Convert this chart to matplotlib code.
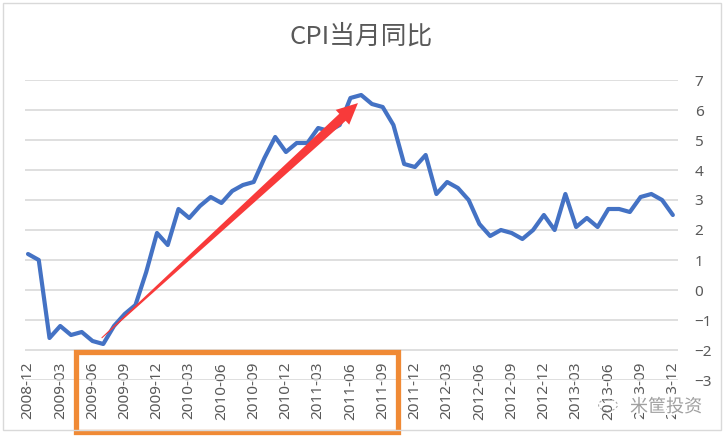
import numpy as np
import matplotlib
matplotlib.use("Agg")
import matplotlib.pyplot as plt
import matplotlib.patheffects as pe
from matplotlib.patches import Rectangle, Polygon, Circle

# China CPI, year-on-year (%), monthly 2008-12 .. 2013-12
months = [f"{y}-{m:02d}" for y, m in
          [(2008, 12)] + [(y, m) for y in range(2009, 2014) for m in range(1, 13)]]
cpi = [1.2,
       1.0, -1.6, -1.2, -1.5, -1.4, -1.7, -1.8, -1.2, -0.8, -0.5, 0.6, 1.9,
       1.5, 2.7, 2.4, 2.8, 3.1, 2.9, 3.3, 3.5, 3.6, 4.4, 5.1, 4.6,
       4.9, 4.9, 5.4, 5.3, 5.5, 6.4, 6.5, 6.2, 6.1, 5.5, 4.2, 4.1,
       4.5, 3.2, 3.6, 3.4, 3.0, 2.2, 1.8, 2.0, 1.9, 1.7, 2.0, 2.5,
       2.0, 3.2, 2.1, 2.4, 2.1, 2.7, 2.7, 2.6, 3.1, 3.2, 3.0, 2.5]
y_ticks = list(range(-3, 8))

# annotation: trend arrow (month index, value) and highlighted label range
arrow_from = (6.85, -1.6)
arrow_to = (30.7, 6.23)
box_months = ("2009-06", "2011-09")

GRID = "#D9D9D9"
TXT = "#595959"

fig = plt.figure(figsize=(7.25, 4.37), dpi=100)
fig.patch.set_facecolor("white")
ax = fig.add_axes([25 / 725, 1 - 380 / 437, 653 / 725, 300 / 437])

x = np.arange(len(months))
ax.plot(x, cpi, color="#4472C4", lw=3.0, solid_joinstyle="round",
        solid_capstyle="round", zorder=3)

ax.set_xlim(-0.28, 60.48)
ax.set_ylim(-3, 7)
ax.set_yticks(y_ticks)
ax.yaxis.tick_right()
ax.grid(axis="y", color=GRID, lw=1.2)
ax.set_axisbelow(True)
for s in ax.spines.values():
    s.set_visible(False)

ax.set_xticks(x[::3], months[::3])
ax.tick_params(axis="x", length=0, pad=-13, labelrotation=90,
               labelsize=11, labelcolor=TXT)
ax.tick_params(axis="y", length=0, pad=12, labelsize=11, labelcolor=TXT)
for lab in ax.get_xticklabels() + ax.get_yticklabels():
    lab.set_fontfamily(["Noto Sans", "DejaVu Sans"])

# tapered red arrow, built in pixel space then mapped back to data
p0 = ax.transData.transform(arrow_from)
p1 = ax.transData.transform(arrow_to)
d = p1 - p0
L = np.hypot(*d)
u = d / L
n = np.array([-u[1], u[0]])
head_len, head_w, tail_w, neck_w = 21, 20, 1.0, 9.5
neck = p1 - u * head_len
pts = [p0 + n * tail_w / 2, neck + n * neck_w / 2, neck + n * head_w / 2, p1,
       neck - n * head_w / 2, neck - n * neck_w / 2, p0 - n * tail_w / 2]
pts = ax.transData.inverted().transform(np.array(pts))
ax.add_patch(Polygon(pts, closed=True, color="#F83A3A", lw=0, zorder=4))

# orange box around highlighted tick labels
i0 = months.index(box_months[0])
i1 = months.index(box_months[1])
ax.add_patch(Rectangle((i0 - 1.5, -4.72), (i1 - i0) + 2.9, 2.67,
                       fill=False, ec="#F08A35", lw=3.8, clip_on=False, zorder=5))

fig.text(0.498, 1 - 37 / 437, "CPI当月同比", fontsize=18.5, color=TXT,
         family=["Noto Sans CJK SC", "DejaVu Sans"], ha="center", va="center")

# chart border
fig.add_artist(Rectangle((3 / 725, 1 - 430 / 437), 718 / 725, 427 / 437,
                         transform=fig.transFigure, fill=False, ec=GRID, lw=1))

# watermark
fig.add_artist(Circle((608 / 725, 1 - 405 / 437), 0.013,
                      transform=fig.transFigure, fill=False, ec="#AAAAAA",
                      lw=0.8, ls=(0, (2, 2))))
fig.text(666 / 725, 1 - 407 / 437, "米筐投资", fontsize=13, color="#A0A0A0",
         family=["Noto Sans CJK SC", "DejaVu Sans"], ha="center", va="center",
         path_effects=[pe.withStroke(linewidth=3, foreground="white")])

fig.savefig("out.png", dpi=100)
